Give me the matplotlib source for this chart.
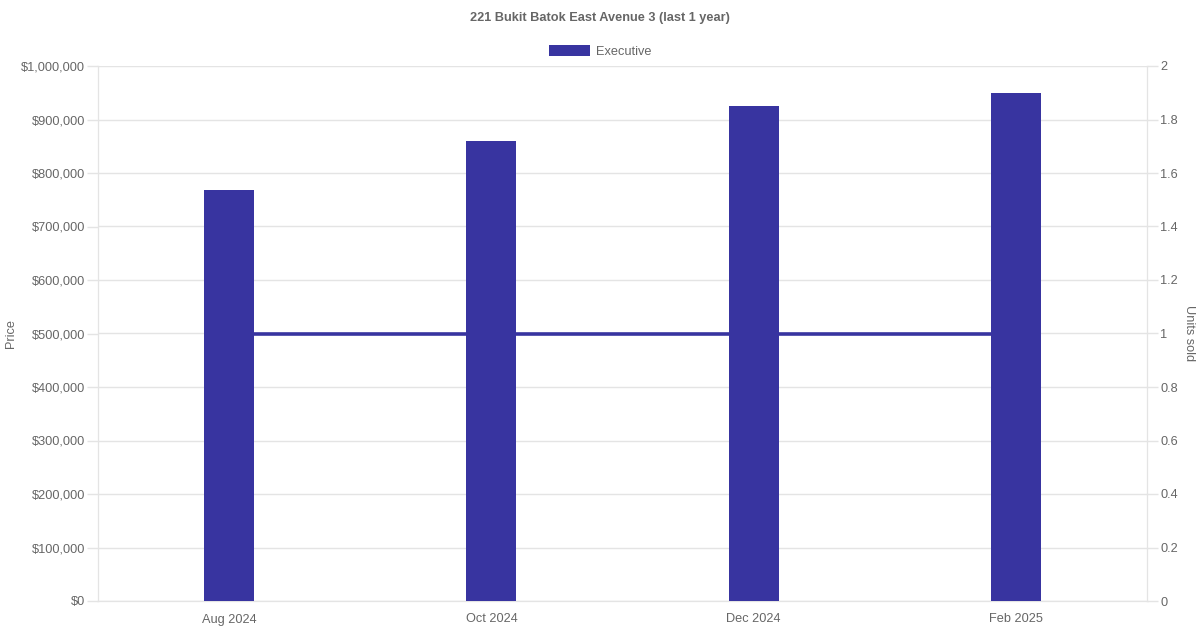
import matplotlib.pyplot as plt
from matplotlib.patches import Patch
from matplotlib.ticker import FuncFormatter, MultipleLocator

plt.rcParams['font.family'] = ['Liberation Sans', 'DejaVu Sans']

# Données
months = ["Aug 2024", "Oct 2024", "Dec 2024", "Feb 2025"]
prices = [768000, 860000, 925000, 949000]
units_sold = [1, 1, 1, 1]

bar_color = "#3834a0"
grid_color = "#e4e4e4"
text_color = "#666666"

fig = plt.figure(figsize=(12, 6.3), dpi=100)
ax = fig.add_axes([98 / 1200, 29 / 630, 1049 / 1200, 535 / 630])
ax2 = ax.twinx()

x = list(range(len(months)))

# ligne des unités vendues (derrière les barres), grille sur l'axe de droite
ax2.plot(x, units_sold, color=bar_color, linewidth=2.6, zorder=2)
ax2.set_ylim(0, 2)
ax2.yaxis.set_major_locator(MultipleLocator(0.2))
ax2.yaxis.set_major_formatter(FuncFormatter(lambda v, p: f"{v:g}"))
ax2.grid(axis="y", color=grid_color, linewidth=1, zorder=0)
ax2.set_axisbelow(True)

ax.set_zorder(ax2.get_zorder() + 1)
ax.patch.set_visible(False)
ax.bar(x, prices, width=0.19, color=bar_color, zorder=3)
ax.set_ylim(0, 1000000)
ax.set_xlim(-0.5, len(months) - 0.5)
ax.yaxis.set_major_locator(MultipleLocator(100000))
ax.yaxis.set_major_formatter(FuncFormatter(lambda v, p: f"${v:,.0f}"))
ax.set_xticks(x)
ax.set_xticklabels(months)

for a in (ax, ax2):
    for s in a.spines.values():
        s.set_color(grid_color)
    a.spines["top"].set_visible(False)
    a.tick_params(colors=text_color, labelsize=9.2, length=8, width=1)
    a.tick_params(axis="y", color=grid_color, pad=1.5)
ax.tick_params(axis="x", length=0, pad=9)

ax.set_ylabel("Price", color=text_color, fontsize=9.2, va="center")
ax.yaxis.set_label_coords(-0.083, 0.5)
ax2.set_ylabel("Units sold", color=text_color, fontsize=9.2, rotation=270, va="center")
ax2.yaxis.set_label_coords(1.040, 0.5)

fig.suptitle("221 Bukit Batok East Avenue 3 (last 1 year)", y=1 - 17.5 / 630, va="center",
             fontsize=9.2, fontweight="bold", color=text_color)
fig.legend(handles=[Patch(facecolor=bar_color, label="Executive")],
           loc="center", bbox_to_anchor=(0.5, 1 - 51.5 / 630), frameon=False,
           fontsize=9.2, labelcolor=text_color, handlelength=3.2, handleheight=0.9,
           handletextpad=0.5)

fig.savefig("out.png", dpi=100)
